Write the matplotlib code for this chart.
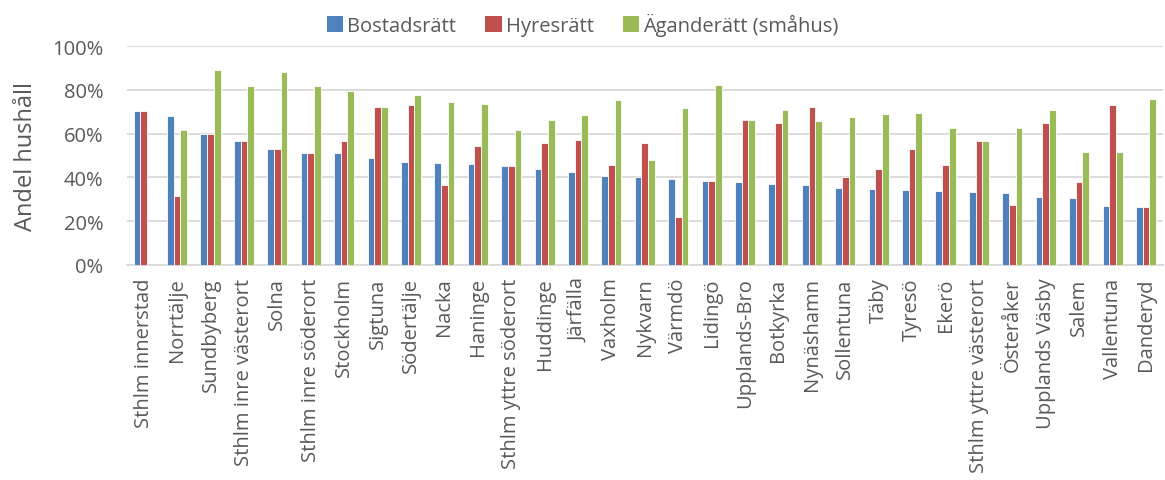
import numpy as np
import matplotlib.pyplot as plt
from matplotlib.ticker import PercentFormatter

plt.rcParams['font.family'] = ['Open Sans', 'DejaVu Sans']

kommuner = ["Sthlm innerstad", "Norrtälje", "Sundbyberg", "Sthlm inre västerort", "Solna",
            "Sthlm inre söderort", "Stockholm", "Sigtuna", "Södertälje", "Nacka",
            "Haninge", "Sthlm yttre söderort", "Huddinge", "Järfälla", "Vaxholm",
            "Nykvarn", "Värmdö", "Lidingö", "Upplands-Bro", "Botkyrka",
            "Nynäshamn", "Sollentuna", "Täby", "Tyresö", "Ekerö",
            "Sthlm yttre västerort", "Österåker", "Upplands Väsby", "Salem", "Vallentuna",
            "Danderyd"]

bostadsratt = [70.2, 68.2, 59.7, 56.5, 52.8, 51.0, 51.0, 48.7, 46.9, 46.4,
               46.3, 45.2, 43.7, 42.7, 40.6, 40.3, 39.5, 38.3, 38.0, 37.1,
               36.6, 35.1, 34.5, 34.2, 33.7, 33.3, 33.1, 31.0, 30.7, 26.9,
               26.7]
hyresratt = [70.2, 31.6, 59.7, 56.5, 52.8, 51.0, 56.5, 72.1, 73.3, 36.5,
             54.2, 45.2, 55.6, 56.9, 45.5, 55.9, 22.1, 38.3, 66.3, 65.0,
             72.2, 40.3, 43.8, 53.0, 45.6, 56.5, 27.3, 65.0, 37.7, 73.1,
             26.7]
aganderatt = [0.0, 61.7, 89.0, 81.7, 88.2, 81.7, 79.5, 72.1, 77.9, 74.4,
              73.6, 61.5, 66.3, 68.7, 75.4, 48.1, 71.9, 82.4, 66.3, 70.8,
              65.8, 67.6, 69.0, 69.5, 62.4, 56.5, 62.4, 70.7, 51.8, 51.5,
              76.0]
series = ["Bostadsrätt", "Hyresrätt", "Äganderätt (småhus)"]
colours = ["#4F81BD", "#C0504D", "#9BBB59"]

fig = plt.figure(figsize=(11.65, 4.81), dpi=100)
ax = fig.add_axes([0.109, 0.447, 0.889, 0.455])

x = np.arange(len(kommuner))
w = 0.2
for i, (vals, name, col) in enumerate(zip([bostadsratt, hyresratt, aganderatt], series, colours)):
    ax.bar(x + (i - 1) * w, np.array(vals) / 100, width=w, color=col, label=name,
           edgecolor="white", linewidth=0.6, zorder=3)

ax.set_xlim(-0.5, len(kommuner) - 0.5)
ax.set_ylim(0, 1)
ax.set_yticks(np.arange(0, 1.01, 0.2))
ax.yaxis.set_major_formatter(PercentFormatter(1.0, decimals=0))
ax.grid(axis="y", color="#D9D9D9", linewidth=1.3, zorder=0)
for s in ["top", "right", "left"]:
    ax.spines[s].set_visible(False)
ax.spines["bottom"].set_color("#D9D9D9")
ax.spines["bottom"].set_linewidth(1.3)
ax.tick_params(axis="both", length=0, colors="#595959", labelsize=14.5)
ax.tick_params(axis="y", pad=17)
ax.tick_params(axis="x", pad=9)
ax.set_xticks(x)
ax.set_xticklabels(kommuner, rotation=90)
ax.set_ylabel("Andel hushåll", fontsize=17, color="#595959", labelpad=10)

leg = ax.legend(loc="center", bbox_to_anchor=(0.44, 1.10), ncol=3, frameon=False,
                fontsize=14.5, labelcolor="#595959", handlelength=0.8, handleheight=0.8,
                handletextpad=0.2, columnspacing=1.45)
for h in leg.legend_handles:
    h.set_linewidth(0)

fig.savefig("out.png", dpi=100)
